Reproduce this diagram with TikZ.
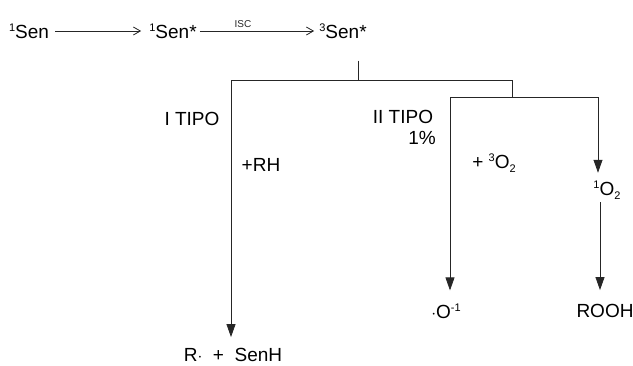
\documentclass[tikz,border=0pt]{standalone}
\usepackage{fontspec}
\setmainfont{Liberation Sans}
\usetikzlibrary{arrows.meta}
\newcommand{\hi}[1]{\raisebox{0.7ex}{\fontsize{11}{11}\selectfont #1}}
\newcommand{\lo}[1]{\raisebox{-0.35ex}{\fontsize{11}{11}\selectfont #1}}
\begin{document}
\begin{tikzpicture}[x=1pt,y=-1pt,
  lbl/.style={font=\fontsize{19}{21}\selectfont, inner sep=0pt},
  ln/.style={line width=0.8pt, black!85},
  thin arrow/.style={ln, -{Straight Barb[length=7pt,width=8pt,line width=0.8pt]}},
  fat arrow/.style={ln, -{Triangle[length=13pt,width=9pt]}}]
\useasboundingbox (0,0) rectangle (633,365);
% top row
\node[lbl] (s1) at (29,31) {\hi{1}Sen};
\node[lbl] (s1s) at (173,31) {\hi{1}Sen*};
\node[lbl] (s3) at (343,31) {\hi{3}Sen*};
\draw[thin arrow] ([xshift=6pt]s1.east) -- ([xshift=-8pt]s1s.west);
\draw[thin arrow] ([xshift=3pt]s1s.east) -- ([xshift=-5pt]s3.west)
  node[midway, above=2pt, font=\fontsize{10}{10}\selectfont, inner sep=1pt, xshift=-14pt] (isc) {ISC};
% junctions
\coordinate (j0) at (358,80);
\coordinate (j1) at (512,97);
% end products
\node[lbl] (rsen) at (233,355) {R$\cdot$\ \ +\ \ SenH};
\node[lbl] (om) at (446,311) {$\cdot$O\hi{-1}};
\node[lbl] (o2) at (607,190) {\hi{1}O\lo{2}};
\node[lbl] (rooh) at (605,311) {ROOH};
% connectors
\draw[ln] ([yshift=-22pt]s3.south -| j0) -- (j0);
\draw[fat arrow] (j0) -| ([xshift=-2pt,yshift=11pt]rsen.north);
\draw[ln] (j0) -| (j1);
\draw[fat arrow] (j1) -| ([xshift=4pt,yshift=13pt]om.north);
\draw[fat arrow] (j1) -| ([xshift=-9pt,yshift=8pt]o2.north);
\draw[fat arrow] ([xshift=-7pt,yshift=-3pt]o2.south) -- ([xshift=-5pt,yshift=14pt]rooh.north);
% labels
\node[lbl] (t1) at (192,119) {I TIPO};
\node[lbl] (t2) at (403,117) {II TIPO};
\node[lbl, anchor=east] (pc) at (436,138) {1\%};
\node[lbl] (rh) at (261,165) {+RH};
\node[lbl] (o3) at (494,163) {+ \hi{3}O\lo{2}};
\end{tikzpicture}
\end{document}
